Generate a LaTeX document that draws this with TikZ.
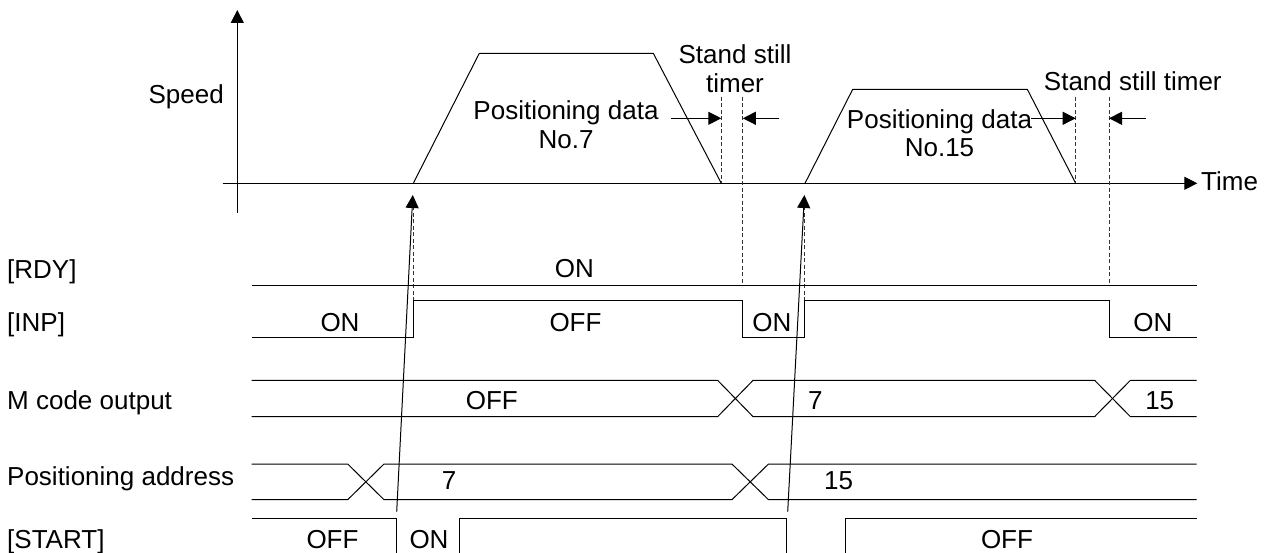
\documentclass[tikz,border=0pt]{standalone}
\usepackage{fontspec}
\setmainfont{Liberation Sans}
\usetikzlibrary{arrows.meta}
\begin{document}
\begin{tikzpicture}[x=1pt,y=-1pt,
  txt/.style={inner sep=0pt, anchor=base, font=\fontsize{26}{29}\selectfont},
  ltxt/.style={txt, anchor=base west},
  sig/.style={line width=1pt, line join=miter},
  dsh/.style={line width=1pt, black!80, dash pattern=on 4pt off 2.5pt},
  arr/.style={line width=1pt, -{Triangle[length=13pt,width=13pt]}},
]
\useasboundingbox (0,0) rectangle (1269,553);

% ---------- speed graph ----------
\coordinate (vaxB) at (237.3,213);
\coordinate (vaxT) at (237.3,10);
\coordinate (taxL) at (222.7,183.3);
\coordinate (taxR) at (1197.3,183.3);
\draw[arr] (vaxB) -- (vaxT);
\draw[arr] (taxL) -- (taxR);
\node[ltxt] (time) at (1201,190.7) {Time};
\node[txt, anchor=base east] (speed) at (224,103.3) {Speed};

% trapezoids
\draw[sig] (413.3,183.3) -- (479.3,53.3) -- (653.3,53.3) -- (721.3,183.3);
\draw[sig] (805,183.3) -- (852.7,89.3) -- (1027.3,89.3) -- (1075.7,183.3);

\node[txt] (pd7a) at (566,119.3) {Positioning data};
\node[txt] (pd7b) at (566,148.3) {No.7};
\node[txt] (pd15a) at (939.5,128.3) {Positioning data};
\node[txt] (pd15b) at (939.5,156.7) {No.15};

\node[txt] (sst1a) at (735,63.3) {Stand still};
\node[txt] (sst1b) at (735,92.7) {timer};
\node[txt] (sst2) at (1132.8,90.7) {Stand still timer};

% dashed guides
\coordinate (d1t) at (721.3,97);   \coordinate (d1b) at (721.3,183.3);
\coordinate (d2t) at (742.8,97);   \coordinate (d2b) at (742.8,285.7);
\coordinate (d3t) at (1075.7,97);  \coordinate (d3b) at (1075.7,183.3);
\coordinate (d4t) at (1109,97);    \coordinate (d4b) at (1109,285.7);
\coordinate (d5t) at (413.3,200);  \coordinate (d5b) at (413.3,300.7);
\coordinate (d6t) at (804.4,200);  \coordinate (d6b) at (804.4,300.7);
\foreach \n in {1,...,6} \draw[dsh] (d\n t) -- (d\n b);

% stand still timer arrows
\coordinate (a1s) at (671,118.3);    \coordinate (a1e) at (721.3,118.3);
\coordinate (a2s) at (779.3,118.3);  \coordinate (a2e) at (742.8,118.3);
\coordinate (a3s) at (1030.7,118.3); \coordinate (a3e) at (1075.7,118.3);
\coordinate (a4s) at (1145.7,118.3); \coordinate (a4e) at (1109,118.3);
\draw[arr] (a1s) -- (a1e);
\draw[arr] (a2s) -- (a2e);
\draw[arr] (a3s) -- (a3e);
\draw[arr] (a4s) -- (a4e);

% start trigger arrows
\coordinate (t1s) at (396.7,511.7); \coordinate (t1e) at (412.8,195);
\coordinate (t2s) at (787.7,511.7); \coordinate (t2e) at (804.4,195);
\draw[arr] (t1s) -- (t1e);
\draw[arr] (t2s) -- (t2e);

% ---------- signal labels ----------
\node[ltxt] (lrdy) at (7,278.5) {[RDY]};
\node[ltxt] (linp) at (7,331.5) {[INP]};
\node[ltxt] (lmc) at (7,409.3) {M code output};
\node[ltxt] (lpa) at (7,485) {Positioning address};
\node[ltxt] (lst) at (7,548.2) {[START]};

% RDY
\draw[sig] (251.7,285.7) -- (1197.3,285.7);
\node[txt] (rdyon) at (574.3,278) {ON};

% INP
\draw[sig] (251.7,337.3) -- (413.3,337.3) -- (413.3,300.7) -- (742.9,300.7)
  -- (742.9,337.3) -- (804.4,337.3) -- (804.4,300.7) -- (1109,300.7)
  -- (1109,337.3) -- (1196.5,337.3);
\node[txt] (inp1) at (340,331) {ON};
\node[txt] (inp2) at (575.5,331) {OFF};
\node[txt] (inp3) at (771.8,331) {ON};
\node[txt] (inp4) at (1152.8,331) {ON};

% M code output
\draw[sig] (251.7,380.3) -- (717.6,380.3) -- (753.1,416.7) -- (1094.6,416.7)
  -- (1130.4,380.3) -- (1196.5,380.3);
\draw[sig] (251.7,416.7) -- (717.6,416.7) -- (753.1,380.3) -- (1094.6,380.3)
  -- (1130.4,416.7) -- (1196.5,416.7);
\node[txt] (mc1) at (491.8,409.8) {OFF};
\node[txt] (mc2) at (815.4,409.8) {7};
\node[txt] (mc3) at (1159.7,409.8) {15};

% Positioning address
\draw[sig] (251.7,464) -- (347.7,464) -- (384,499.7) -- (731.9,499.7)
  -- (768.5,464) -- (1196.5,464);
\draw[sig] (251.7,499.7) -- (347.7,499.7) -- (384,464) -- (731.9,464)
  -- (768.5,499.7) -- (1196.5,499.7);
\node[txt] (pa1) at (449,489.5) {7};
\node[txt] (pa2) at (838.6,489.5) {15};

% START
\draw[sig] (251.7,518.3) -- (396.7,518.3) -- (396.7,553);
\draw[sig] (459.2,553) -- (459.2,518.3) -- (786.9,518.3) -- (786.9,553);
\draw[sig] (845.2,553) -- (845.2,518.3) -- (1196.5,518.3);
\node[txt] (st1) at (332.5,548) {OFF};
\node[txt] (st2) at (429,548) {ON};
\node[txt] (st3) at (1007,548) {OFF};
\end{tikzpicture}
\end{document}
